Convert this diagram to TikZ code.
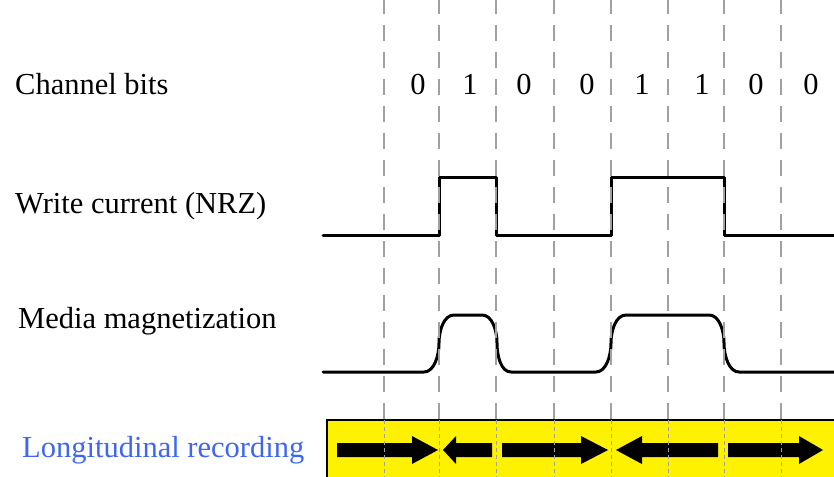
\documentclass[tikz,border=0pt]{standalone}
\usepackage{fontspec}
\setmainfont{Liberation Serif}
\definecolor{labelblue}{RGB}{62,102,242}
\definecolor{gridgray}{RGB}{160,160,160}
\begin{document}
\begin{tikzpicture}[x=1pt,y=-1pt,
  lbl/.style={anchor=base west,inner sep=0pt,font=\fontsize{30.5}{36}\selectfont},
  bit/.style={anchor=base,inner sep=0pt,font=\fontsize{30.5}{36}\selectfont},
  wave/.style={line width=3pt,line join=round,line cap=round},
  grid/.style={gridgray,line width=1.4pt,dash pattern=on 16pt off 11pt},
  gridfine/.style={gridgray,line width=0.8pt,dash pattern=on 4pt off 3pt},
  magarrow/.style={fill=black}]
\useasboundingbox (0,0) rectangle (834,476);

% recording medium strip
\fill[yellow] (327,420) rectangle (836,478);
\draw[line width=1.2pt] (327,478) -- (327,420) -- (836,420);

% labels
\node[lbl] (chan) at (15,95) {Channel bits};
\node[lbl] (wcur) at (15,213) {Write current (NRZ)};
\node[lbl] (magn) at (18,328) {Media magnetization};
\node[lbl,text=labelblue] (lrec) at (22,457) {Longitudinal recording};

% channel bits
\foreach \x/\b [count=\i] in {418/0,470/1,524/0,587/0,642/1,702/1,756/0,811/0}{
  \node[bit] (b\i) at (\x,95) {\b};
}

% NRZ write current
\draw[wave] (323,235) -- (439,235) -- (439,177) -- (496,177) -- (496,235)
  -- (611,235) -- (611,177) -- (724,177) -- (724,235) -- (836,235);

% magnetization with finite transition width
\draw[wave] (323,372) -- (424,372)
  .. controls (434,372) and (439,356) .. (439,343)
  .. controls (439,330) and (444,315) .. (454,315) -- (482,315)
  .. controls (492,315) and (497,330) .. (497,343)
  .. controls (497,356) and (501,372) .. (511,372) -- (596,372)
  .. controls (606,372) and (611,356) .. (611,343)
  .. controls (611,330) and (616,315) .. (626,315) -- (709,315)
  .. controls (719,315) and (724,330) .. (724,343)
  .. controls (724,356) and (729,372) .. (739,372) -- (836,372);

% magnetization direction arrows
\fill[magarrow] (337,443) -- (412,443) -- (412,436) -- (438,450) -- (412,464) -- (412,457) -- (337,457) -- cycle;
\fill[magarrow] (492,443) -- (456,443) -- (456,436) -- (443,450) -- (456,464) -- (456,457) -- (492,457) -- cycle;
\fill[magarrow] (502,443) -- (581,443) -- (581,436) -- (608,450) -- (581,464) -- (581,457) -- (502,457) -- cycle;
\fill[magarrow] (718,443) -- (642,443) -- (642,436) -- (616,450) -- (642,464) -- (642,457) -- (718,457) -- cycle;
\fill[magarrow] (728,443) -- (799,443) -- (799,436) -- (823,450) -- (799,464) -- (799,457) -- (728,457) -- cycle;

% bit cell boundaries, drawn over everything
\foreach \x in {384,439,496,554,611,668,724,781}{
  \draw[grid] (\x,-2) -- (\x,420);
  \draw[gridfine] (\x,420) -- (\x,478);
}
\end{tikzpicture}
\end{document}
